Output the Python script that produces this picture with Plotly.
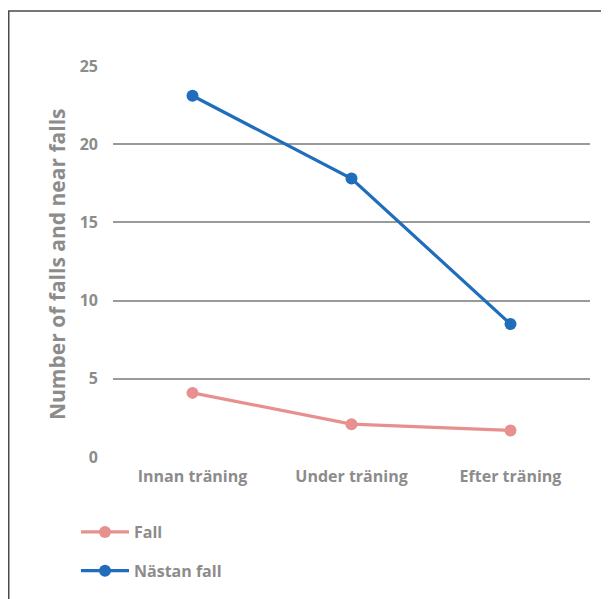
import plotly.graph_objects as go

categories = ["Innan träning", "Under träning", "Efter träning"]
fall = [4.1, 2.1, 1.7]
nastan_fall = [23.1, 17.8, 8.5]
y_ticks = [0, 5, 10, 15, 20, 25]

FONT = "Open Sans"
GRAY = "#8c8c8c"

fig = go.Figure()
fig.add_trace(go.Scatter(
    x=categories, y=fall, name="Fall", mode="lines+markers",
    line=dict(color="#e8908f", width=3.2), marker=dict(size=12, color="#e8908f"),
    legendgroup="a"))
fig.add_trace(go.Scatter(
    x=categories, y=nastan_fall, name="Nästan fall", mode="lines+markers",
    line=dict(color="#1f6dbb", width=3.2), marker=dict(size=12, color="#1f6dbb"),
    legendgroup="b"))

W, H = 609, 599
L, R, T, B = 105, 27, 58, 150
pw, ph = W - L - R, H - T - B

def px_x(p):
    return (p - L) / pw

def px_y(p):
    return (H - B - p) / ph

fig.update_layout(
    width=W, height=H,
    margin=dict(l=L, r=R, t=T, b=B, autoexpand=False),
    paper_bgcolor="white", plot_bgcolor="white",
    font=dict(family=FONT, color=GRAY, weight="bold"),
    showlegend=True,
    legend=dict(xref="container", yref="container",
                x=68 / W, y=(H - 507) / H, xanchor="left", yanchor="top",
                font=dict(size=16, color=GRAY, family=FONT, weight="bold"),
                tracegroupgap=15, traceorder="grouped", itemwidth=48),
    xaxis=dict(showgrid=False, showline=False, zeroline=False, automargin=True,
               tickfont=dict(size=16, color=GRAY, family=FONT, weight="bold"),
               ticks="", ticklabelstandoff=8, range=[-0.5, 2.5]),
    yaxis=dict(range=[0, 25], tickvals=y_ticks, showgrid=True, automargin=True,
               gridcolor="#9a9a9a", gridwidth=2, zeroline=False,
               showline=False, ticks="",
               tickfont=dict(size=16, color=GRAY, family=FONT, weight="bold"),
               ticklabelstandoff=14),
    annotations=[dict(text="Number of falls and near falls", textangle=-90,
                      xref="paper", yref="paper", x=px_x(49), y=px_y(257),
                      xanchor="center", yanchor="middle", showarrow=False,
                      font=dict(size=21, color=GRAY, family=FONT, weight="bold"))],
    shapes=[dict(type="rect", xref="paper", yref="paper",
                 x0=px_x(0.75), x1=px_x(640), y0=px_y(640), y1=px_y(3),
                 line=dict(color="#4a4a4a", width=1.5), fillcolor="rgba(0,0,0,0)",
                 layer="below")],
)

fig.write_html("out.html")
